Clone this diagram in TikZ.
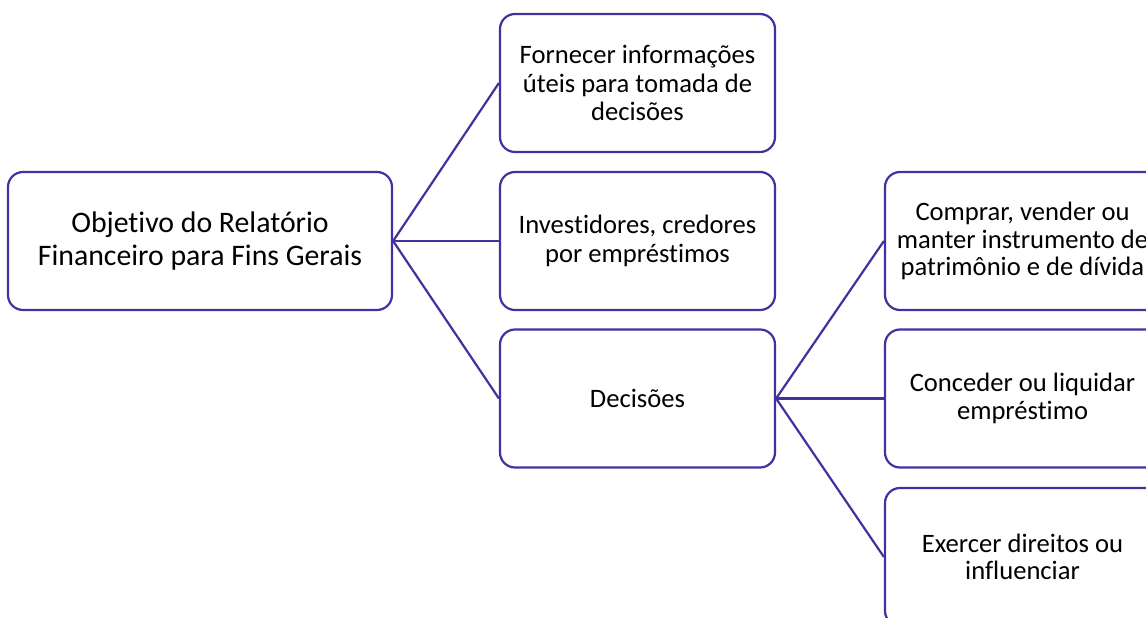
\documentclass[tikz,border=0pt]{standalone}
\usepackage{fontspec}
\setmainfont[Ligatures=NoCommon]{Carlito}
\definecolor{edge}{RGB}{64,50,160}
\begin{document}
\begin{tikzpicture}[x=1pt,y=-1pt,
  box/.style={draw=edge, line width=2.2pt, rounded corners=15pt, fill=white,
    minimum height=138pt, align=center, inner sep=0pt},
  rootbox/.style={box, minimum width=384pt, font=\fontsize{29.8}{33}\selectfont},
  midbox/.style={box, minimum width=275pt, font=\fontsize{26.6}{28.5}\selectfont},
  leafbox/.style={box, minimum width=275pt, font=\fontsize{26.6}{27.5}\selectfont},
  conn/.style={draw=edge, line width=2.2pt}]
\useasboundingbox (0,0) rectangle (1146,618);
\node[rootbox] (root) at (200,241) {Objetivo do Relatório\\Financeiro para Fins Gerais};
\node[midbox] (m1) at (637.5,83) {Fornecer informações\\úteis para tomada de\\decisões};
\node[midbox] (m2) at (637.5,241) {Investidores, credores\\por empréstimos};
\node[midbox] (m3) at (637.5,398.5) {Decisões};
\node[leafbox] (l1) at (1022.5,241) {Comprar, vender ou\\manter instrumento de\\patrimônio e de dívida};
\node[leafbox] (l2) at (1022.5,398.5) {Conceder ou liquidar\\empréstimo};
\node[leafbox] (l3) at (1022.5,557) {Exercer direitos ou\\influenciar};
\draw[conn] (root.east) -- (m1.west);
\draw[conn] (root.east) -- (m2.west);
\draw[conn] (root.east) -- (m3.west);
\draw[conn] (m3.east) -- (l1.west);
\draw[conn] (m3.east) -- (l2.west);
\draw[conn] (m3.east) -- (l3.west);
\end{tikzpicture}
\end{document}
